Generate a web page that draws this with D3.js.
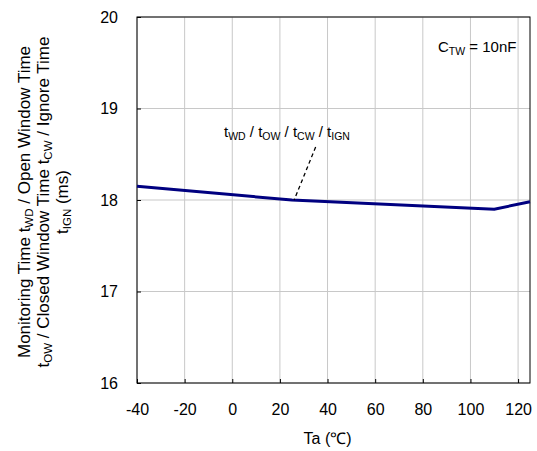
<!DOCTYPE html>
<html><head><meta charset="utf-8">
<script src="https://cdn.jsdelivr.net/npm/d3@7"></script>
<style>body{margin:0;background:#fff}svg{display:block}text{font-family:Arial,"Liberation Sans",sans-serif;fill:#000}</style>
</head><body><svg id="c" width="537" height="451"></svg>
<script>
const temps = [-40, 25, 110, 125];
const times = [18.15, 18.00, 17.90, 17.98];
const xTicks = [-40, -20, 0, 20, 40, 60, 80, 100, 120];
const yTicks = [16, 17, 18, 19, 20];

const svg = d3.select("#c");
const m = {l:137, r:530, t:17, b:383};
const x = d3.scaleLinear().domain([-40,125]).range([m.l,m.r]);
const y = d3.scaleLinear().domain([16,20]).range([m.b,m.t]);
const fmt = d => String(d);

const g = svg.append("g");
g.selectAll(".vg").data(xTicks).join("line").attr("x1",d=>x(d)).attr("x2",d=>x(d)).attr("y1",m.t).attr("y2",m.b).attr("stroke","#c8c8c8").attr("stroke-width",1);
g.selectAll(".hg").data(yTicks).join("line").attr("x1",m.l).attr("x2",m.r).attr("y1",d=>y(d)).attr("y2",d=>y(d)).attr("stroke","#c8c8c8").attr("stroke-width",1);

const xa = svg.append("g").attr("transform",`translate(0,${m.b})`).call(d3.axisBottom(x).tickValues(xTicks).tickFormat(fmt).tickSizeInner(-4).tickSizeOuter(0).tickPadding(21));
const ya = svg.append("g").attr("transform",`translate(${m.l},0)`).call(d3.axisLeft(y).tickValues(yTicks).tickFormat(fmt).tickSizeInner(-4).tickSizeOuter(0).tickPadding(19));
[xa,ya].forEach(a=>{a.select(".domain").remove();a.selectAll("line").attr("stroke","#000");a.selectAll("text").attr("font-size",16).attr("font-family","Arial, 'Liberation Sans', sans-serif");});
svg.append("rect").attr("x",m.l).attr("y",m.t).attr("width",m.r-m.l).attr("height",m.b-m.t).attr("fill","none").attr("stroke","#000").attr("stroke-width",1);

svg.append("path").datum(temps.map((t,i)=>[t,times[i]])).attr("d",d3.line().x(d=>x(d[0])).y(d=>y(d[1]))).attr("fill","none").attr("stroke","#000080").attr("stroke-width",3);

// annotation
svg.append("line").attr("x1",x(35)).attr("y1",y(18.58)).attr("x2",x(26)).attr("y2",y(18.0)).attr("stroke","#000").attr("stroke-width",1.3).attr("stroke-dasharray","4,3");
const an = svg.append("text").attr("x",224).attr("y",137).attr("font-size",15);
[["t",""],["WD","s"],[" / t",""],["OW","s"],[" / t",""],["CW","s"],[" / t",""],["IGN","s"]].forEach(([s,k])=>{
  const ts = an.append("tspan").text(s);
  if(k) ts.attr("font-size",10.5).attr("dy",3); else if(s!=="t") ts.attr("dy",-3);
});
const ct = svg.append("text").attr("x",438).attr("y",52).attr("font-size",15);
ct.append("tspan").text("C");
ct.append("tspan").text("TW").attr("font-size",10.5).attr("dy",3);
ct.append("tspan").text(" = 10nF").attr("dy",-3);

svg.append("text").attr("x",x(40)).attr("y",444).attr("text-anchor","middle").attr("font-size",16).text("Ta (\u2103)");

const yl = svg.append("g").attr("transform","translate(0,202) rotate(-90)");
function line(parts, dy){
  const t = yl.append("text").attr("x",0).attr("y",dy).attr("text-anchor","middle").attr("font-size",17);
  parts.forEach(([s,k])=>{const ts=t.append("tspan").text(s); if(k){ts.attr("font-size",11.5).attr("dy",3);} else if(ts.node().previousSibling && ts.node().previousSibling.getAttribute("font-size")) ts.attr("dy",-3);});
}
line([["Monitoring Time t",""],["WD","s"],[" / Open Window Time",""]],30);
line([["t",""],["OW","s"],[" / Closed Window Time t",""],["CW","s"],[" / Ignore Time",""]],49);
line([["t",""],["IGN","s"],[" (ms)",""]],68);
</script></body></html>
